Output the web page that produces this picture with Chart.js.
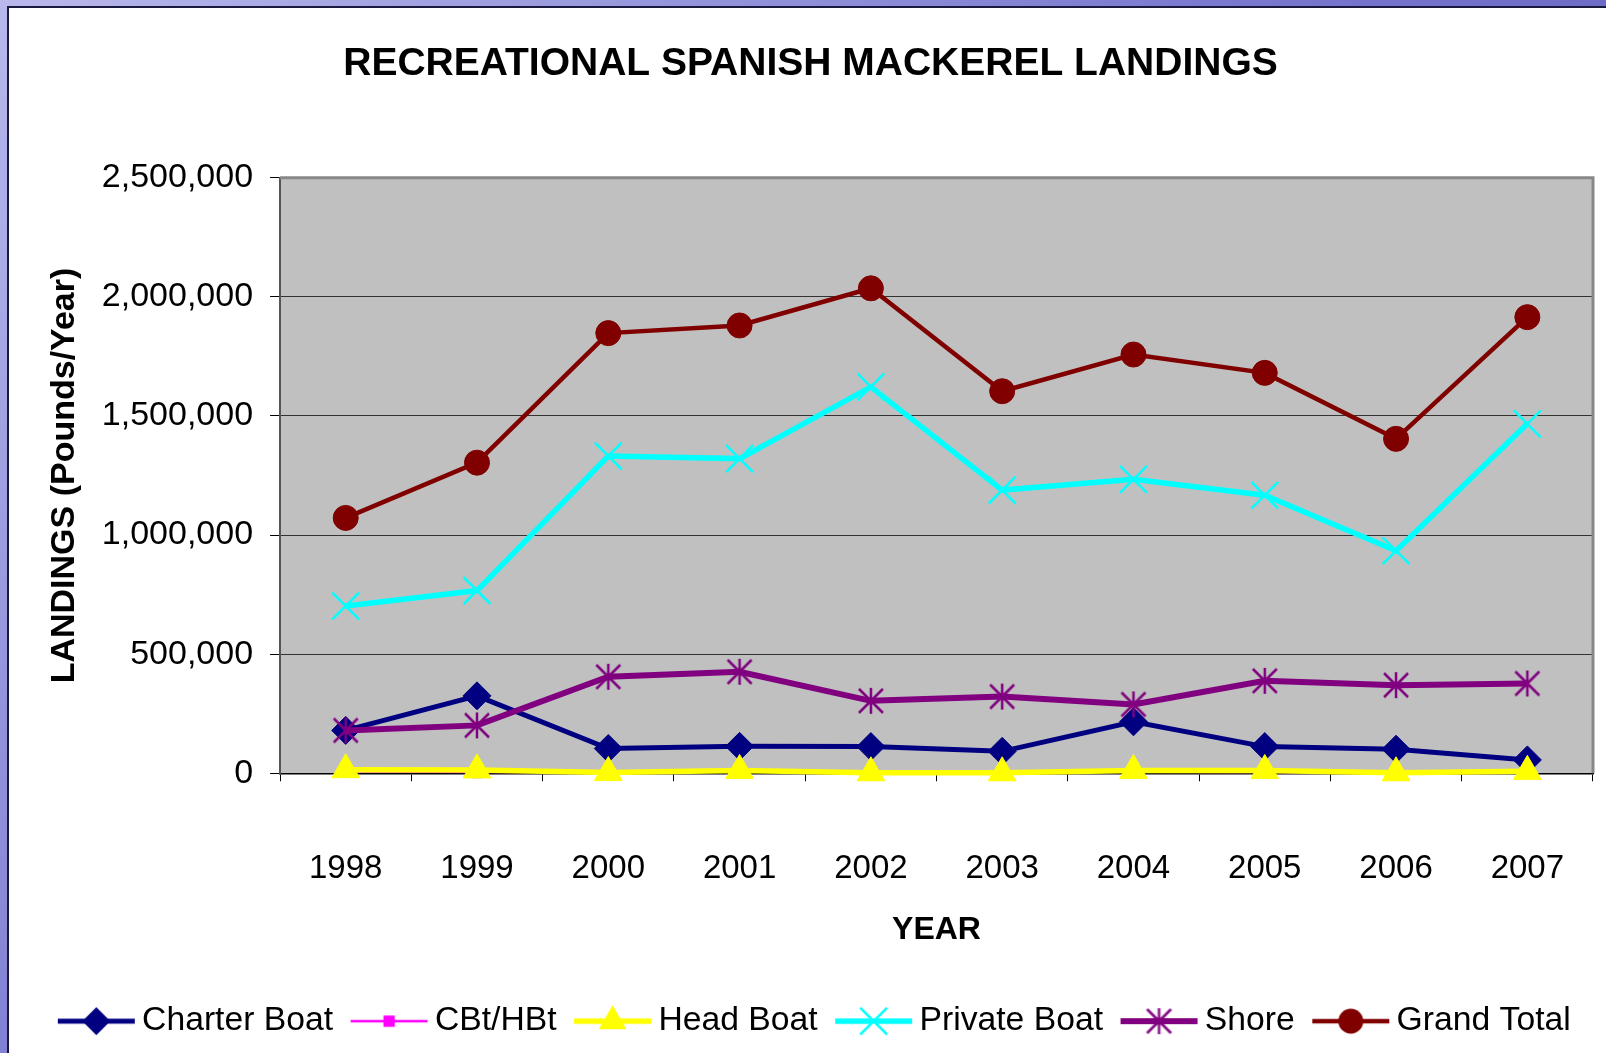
<!DOCTYPE html>
<html>
<head>
<meta charset="utf-8">
<title>Recreational Spanish Mackerel Landings</title>
<script src="https://cdn.jsdelivr.net/npm/chart.js@4.4.0/dist/chart.umd.min.js"></script>
<style>
  body { margin: 0; width: 1606px; height: 1053px; overflow: hidden; position: relative;
         background: linear-gradient(135deg, #b8b8ec 0%, #7a7ad0 45%, #4a4ab4 100%); }
  #panel { position: absolute; left: 7px; top: 6px; right: 0; bottom: 0; background: #fff;
           border-left: 2px solid #1a1a40; border-top: 2px solid #1a1a40; }
  #chart { position: absolute; left: 0; top: 0; }
</style>
</head>
<body>
<div id="panel"></div>
<canvas id="chart" width="1606" height="1053"></canvas>
<script>
const years = ['1998', '1999', '2000', '2001', '2002', '2003', '2004', '2005', '2006', '2007'];

const charterBoat = [180000, 325000, 104000, 113000, 112000, 92000, 216000, 112000, 101000, 56000];
const cbtHbt = [8000, 5000, 6000, 8000, 4000, 3000, 6000, 5000, 3000, 4000];
const headBoat = [15000, 14000, 3000, 12000, 2000, 2000, 12000, 12000, 2000, 8000];
const privateBoat = [702000, 767000, 1332000, 1321000, 1622000, 1189000, 1234000, 1167000, 934000, 1467000];
const shore = [180000, 201000, 405000, 426000, 304000, 322000, 289000, 388000, 370000, 377000];
const grandTotal = [1072000, 1304000, 1848000, 1880000, 2036000, 1604000, 1758000, 1681000, 1404000, 1915000];

const yTicks = [0, 500000, 1000000, 1500000, 2000000, 2500000];

const FONT = "'Liberation Sans', Arial, sans-serif";

// Excel style asterisk: an X with a vertical bar through it
function makeStar(color, r) {
    const c = document.createElement('canvas');
    c.width = c.height = r * 2 + 4;
    const g = c.getContext('2d');
    const m = r + 2;
    g.strokeStyle = color;
    g.lineWidth = 2.5;
    g.beginPath();
    g.moveTo(m - r, m - r); g.lineTo(m + r, m + r);
    g.moveTo(m + r, m - r); g.lineTo(m - r, m + r);
    g.moveTo(m, m - r - 1); g.lineTo(m, m + r + 1);
    g.stroke();
    return c;
}

function drawMarker(g, style, x, y, r, color) {
    g.fillStyle = color;
    g.strokeStyle = color;
    if (typeof style === 'object') {
        g.drawImage(style, x - style.width / 2, y - style.height / 2);
        return;
    }
    g.beginPath();
    if (style === 'rectRot') {
        g.moveTo(x, y - r); g.lineTo(x + r, y); g.lineTo(x, y + r); g.lineTo(x - r, y);
        g.closePath(); g.fill();
    } else if (style === 'rect') {
        const s = r * Math.SQRT1_2;
        g.fillRect(x - s, y - s, s * 2, s * 2);
    } else if (style === 'triangle') {
        g.moveTo(x, y - r);
        g.lineTo(x + r * Math.sin(2 * Math.PI / 3), y + r / 2);
        g.lineTo(x - r * Math.sin(2 * Math.PI / 3), y + r / 2);
        g.closePath(); g.fill();
    } else if (style === 'crossRot') {
        const o = r * Math.SQRT1_2;
        g.lineWidth = 2.5;
        g.moveTo(x - o, y - o); g.lineTo(x + o, y + o);
        g.moveTo(x + o, y - o); g.lineTo(x - o, y + o);
        g.stroke();
    } else {
        g.arc(x, y, r, 0, Math.PI * 2);
        g.fill();
    }
}

// legend swatch: a short line with the marker on it
function makeLegendIcon(ds) {
    const c = document.createElement('canvas');
    c.width = 100;
    c.height = 40;
    const g = c.getContext('2d');
    g.strokeStyle = ds.borderColor;
    g.lineWidth = ds.borderWidth;
    g.beginPath();
    g.moveTo(20, 20);
    g.lineTo(97, 20);
    g.stroke();
    drawMarker(g, ds.pointStyle, 58.5, 20, ds.pointRadius, ds.borderColor);
    return c;
}

function series(label, data, color, width, pointStyle, radius, order) {
    return {
        label: label,
        data: data,
        borderColor: color,
        backgroundColor: color,
        borderWidth: width,
        pointStyle: pointStyle,
        pointRadius: radius,
        pointBackgroundColor: color,
        pointBorderColor: color,
        pointBorderWidth: pointStyle === 'crossRot' ? 2.5 : 1,
        tension: 0,
        clip: false,
        order: order
    };
}

const datasets = [
    series('Charter Boat', charterBoat, '#000080', 5, 'rectRot', 14, 5),
    series('CBt/HBt', cbtHbt, '#ff00ff', 2.5, 'rect', 8, 4),
    series('Head Boat', headBoat, '#ffff00', 5.5, 'triangle', 16, 3),
    series('Private Boat', privateBoat, '#00ffff', 5.5, 'crossRot', 19, 2),
    series('Shore', shore, '#800080', 6, makeStar('#800080', 12), 14, 1),
    series('Grand Total', grandTotal, '#800000', 4.5, 'circle', 12.5, 0)
];

const legendIcons = datasets.map(makeLegendIcon);

const plotBackground = {
    id: 'plotBackground',
    beforeDraw(chart) {
        const {ctx, chartArea: a} = chart;
        ctx.save();
        ctx.fillStyle = '#c0c0c0';
        ctx.fillRect(a.left, a.top, a.right - a.left, a.bottom - a.top);
        ctx.restore();
    },
    beforeDatasetsDraw(chart) {
        const {ctx, chartArea: a} = chart;
        ctx.save();
        ctx.strokeStyle = '#888888';
        ctx.lineWidth = 3;
        ctx.beginPath();
        ctx.moveTo(a.left, a.top);
        ctx.lineTo(a.right, a.top);
        ctx.lineTo(a.right, a.bottom);
        ctx.stroke();
        ctx.restore();
    }
};

Chart.defaults.color = '#000';
Chart.defaults.font.family = FONT;

new Chart(document.getElementById('chart'), {
    type: 'line',
    data: {
        labels: years,
        datasets: datasets
    },
    options: {
        responsive: false,
        devicePixelRatio: 1,
        animation: false,
        layout: {
            autoPadding: false,
            padding: {left: 28, right: 13, top: 0, bottom: 5}
        },
        plugins: {
            title: {
                display: true,
                text: 'RECREATIONAL SPANISH MACKEREL LANDINGS',
                color: '#000',
                font: {size: 39, weight: 'bold'},
                padding: {top: 41, bottom: 90}
            },
            legend: {
                position: 'bottom',
                labels: {
                    usePointStyle: true,
                    pointStyleWidth: 75,
                    padding: 10,
                    color: '#000',
                    font: {size: 33.7},
                    generateLabels: function(chart) {
                        return chart.data.datasets.map((ds, i) => ({
                            text: ds.label,
                            pointStyle: legendIcons[i],
                            fillStyle: ds.borderColor,
                            strokeStyle: ds.borderColor,
                            lineWidth: 0,
                            hidden: false,
                            datasetIndex: i
                        }));
                    }
                }
            },
            tooltip: {enabled: false}
        },
        scales: {
            x: {
                offset: true,
                grid: {
                    offset: true,
                    drawOnChartArea: false,
                    drawTicks: true,
                    tickLength: 8,
                    color: '#000'
                },
                border: {display: true, color: '#000', width: 1.5},
                ticks: {
                    padding: 4,
                    font: {size: 33, lineHeight: 5.08}
                },
                title: {
                    display: true,
                    text: 'YEAR',
                    font: {size: 32, weight: 'bold'},
                    padding: {top: -46, bottom: 45}
                }
            },
            y: {
                min: 0,
                max: 2500000,
                afterBuildTicks: function(scale) {
                    scale.ticks = yTicks.map(v => ({value: v}));
                },
                grid: {
                    color: '#333',
                    lineWidth: 1,
                    tickLength: 10,
                    tickColor: '#000',
                    tickWidth: 1
                },
                border: {display: true, color: '#555', width: 2},
                ticks: {
                    padding: 17,
                    font: {size: 34},
                    callback: function(value) {
                        return value.toLocaleString('en-US');
                    }
                },
                title: {
                    display: true,
                    text: 'LANDINGS (Pounds/Year)',
                    font: {size: 34, weight: 'bold'},
                    padding: {top: 16, bottom: 0}
                }
            }
        }
    },
    plugins: [plotBackground]
});
</script>
</body>
</html>
